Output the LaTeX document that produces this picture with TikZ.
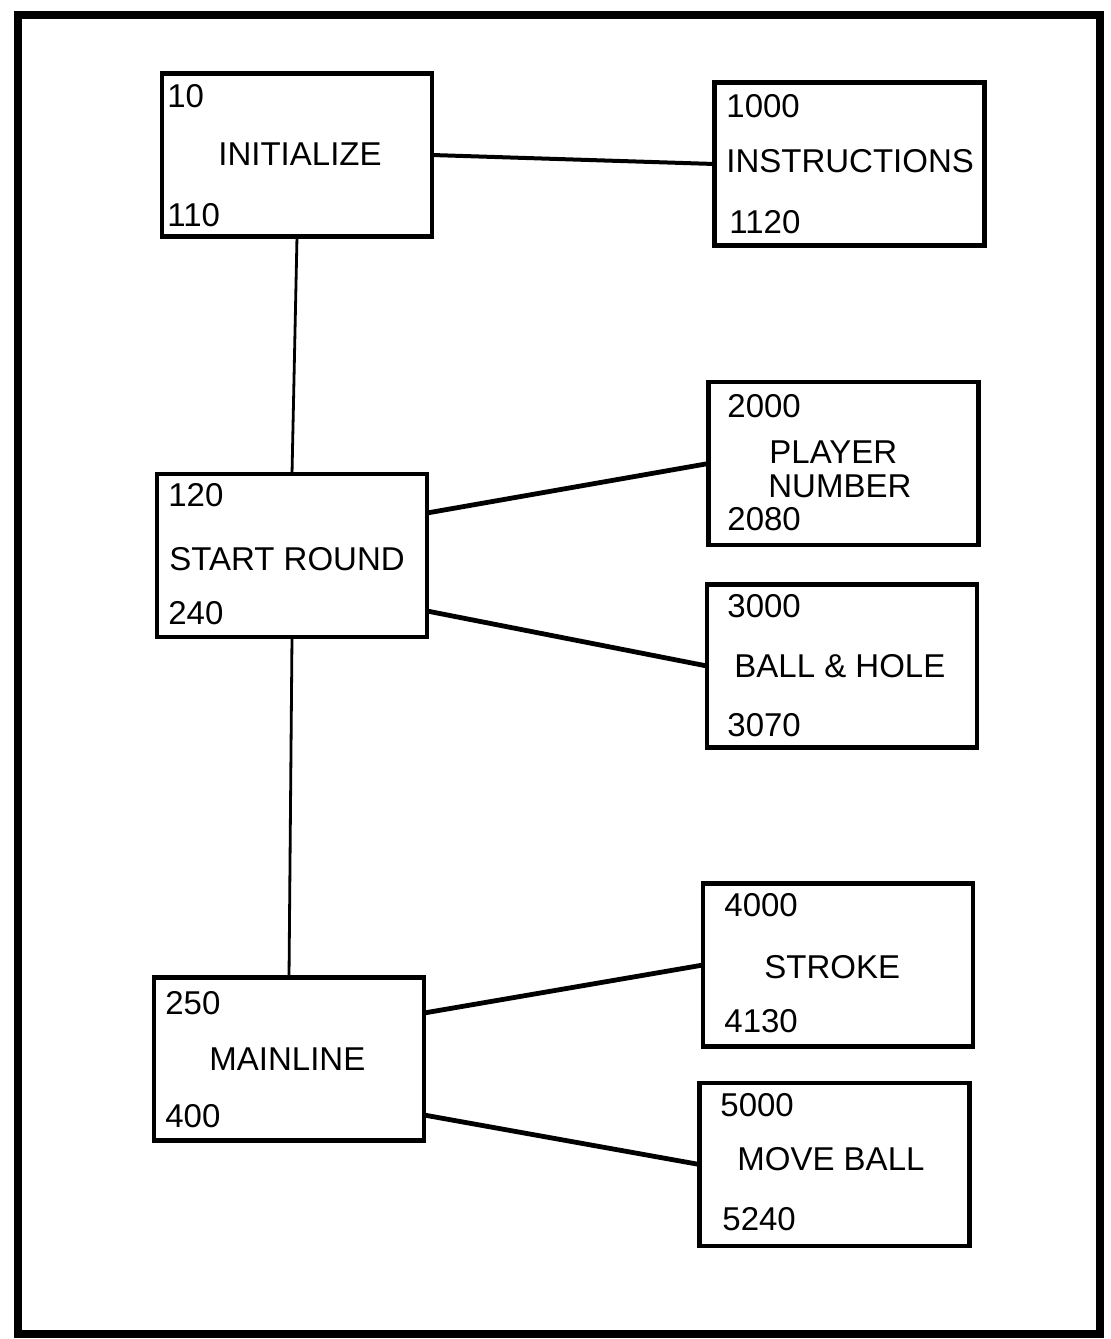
\documentclass[tikz,border=0pt]{standalone}
\usepackage{fontspec}
\setmainfont{Liberation Sans}
\begin{document}
\begin{tikzpicture}[x=0.5pt,y=-0.5pt,
  box/.style={draw,line width=2.2pt,minimum width=135pt,minimum height=81.5pt,inner sep=0pt,outer sep=0pt},
  lbl/.style={anchor=base west,inner sep=0pt,font=\fontsize{16.5}{18}\selectfont},
  link/.style={line width=2.4pt},
  trunk/.style={line width=1.4pt},
  frame/.style={line width=4pt}]
\useasboundingbox (0,0) rectangle (1111,1339);
\draw[frame] (18,15) rectangle (1100,1334);
% boxes
\node[box] (init) at (297,155) {};
\node[box] (instr) at (849.5,164) {};
\node[box] (player) at (843.5,463.5) {};
\node[box] (start) at (292,555.5) {};
\node[box] (ball) at (842,666) {};
\node[box] (stroke) at (838,965) {};
\node[box] (main) at (289,1059) {};
\node[box] (move) at (834.5,1164.5) {};
% texts
\node[lbl] (t10) at (167,107) {10};
\node[lbl] (tinit) at (218,165) {INITIALIZE};
\node[lbl] (t110) at (167,226) {110};
\node[lbl] (t1000) at (726,117) {1000};
\node[lbl] (tinstr) at (726,172) {INSTRUCTIONS};
\node[lbl] (t1120) at (729,233) {1120};
\node[lbl] (t2000) at (727,417) {2000};
\node[lbl] (tplayer) at (769,463) {PLAYER};
\node[lbl] (tnumber) at (768,497) {NUMBER};
\node[lbl] (t2080) at (727,530) {2080};
\node[lbl] (t120) at (168,506) {120};
\node[lbl] (tstart) at (169,570) {START ROUND};
\node[lbl] (t240) at (168,624) {240};
\node[lbl] (t3000) at (727,617) {3000};
\node[lbl] (tball) at (734,677) {BALL \& HOLE};
\node[lbl] (t3070) at (727,736) {3070};
\node[lbl] (t4000) at (724,916) {4000};
\node[lbl] (tstroke) at (764,978) {STROKE};
\node[lbl] (t4130) at (724,1032) {4130};
\node[lbl] (t250) at (165,1014) {250};
\node[lbl] (tmain) at (209,1070) {MAINLINE};
\node[lbl] (t400) at (165,1127) {400};
\node[lbl] (t5000) at (720,1116) {5000};
\node[lbl] (tmove) at (737,1170) {MOVE BALL};
\node[lbl] (t5240) at (722,1230) {5240};
% connectors
\draw[link,line width=2pt] (init.east) -- (instr.west);
\draw[trunk] (init.south) -- (start.north);
\draw[trunk] (start.south) -- (main.north);
\draw[link] ([yshift=21.25pt]start.east) -- (player.west);
\draw[link] ([yshift=-27.75pt]start.east) -- (ball.west);
\draw[link] ([yshift=23pt]main.east) -- (stroke.west);
\draw[link] ([yshift=-28pt]main.east) -- (move.west);
\end{tikzpicture}
\end{document}
